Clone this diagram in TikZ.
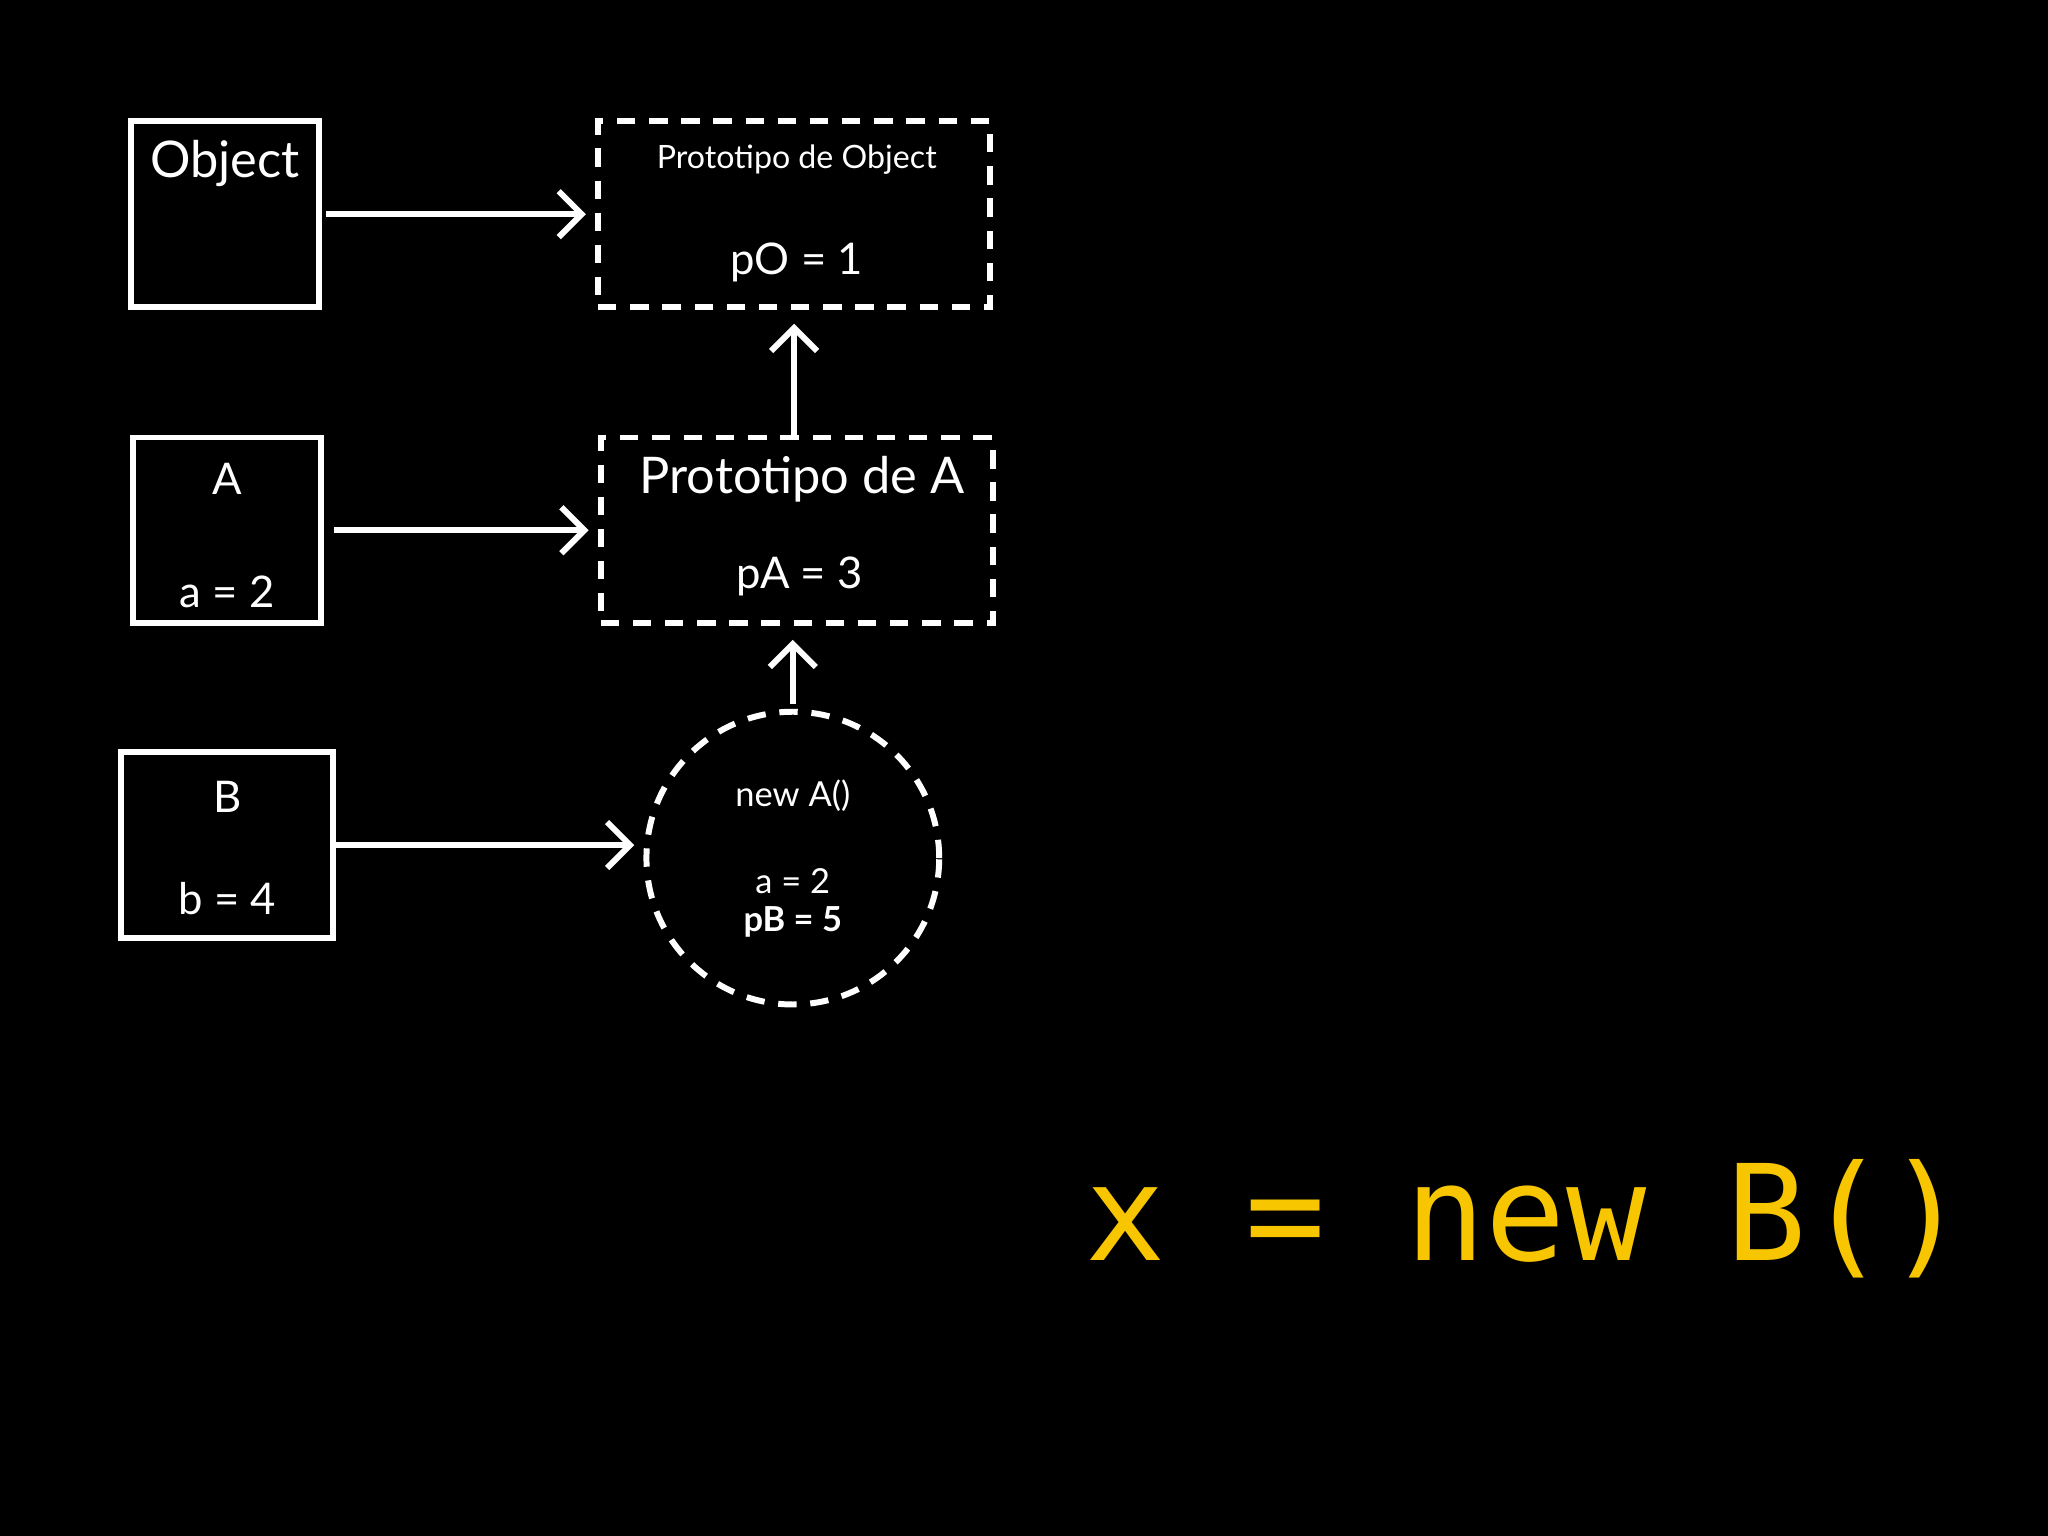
\documentclass[tikz,border=0pt]{standalone}
\usepackage{fontspec}
\setmainfont{Lato}
\setmonofont{DejaVu Sans Mono}
\usetikzlibrary{arrows.meta, positioning}
\definecolor{slideyellow}{HTML}{F7C600}

\tikzset{
  solidbox/.style={draw=white, line width=1.3pt, minimum width=1.44cm, minimum height=1.42cm, inner sep=0pt},
  protobox/.style={draw=white, line width=1.3pt, dashed, dash pattern=on 4pt off 3pt, minimum width=3cm, minimum height=1.42cm, inner sep=0pt},
  link/.style={draw=white, line width=1.3pt, -{Straight Barb[length=5pt, width=10pt]}},
  txt/.style={text=white, font=\fontsize{9.5}{11}\selectfont, inner sep=0pt}
}

\begin{document}
\begin{tikzpicture}[x=0.01cm, y=-0.01cm]
        \fill[black] (0,0) rectangle (1568,1176);

        \node[solidbox]                      (obj)   at (172,164) {};
        \node[protobox]                      (pobj)  at (608,164) {};
        \node[solidbox]                      (a)     at (174,406) {};
        \node[protobox]                      (pa)    at (610,406) {};
        \node[solidbox, minimum width=1.62cm] (b)    at (174,647) {};
        \node[circle, draw=white, line width=1.3pt, dash pattern=on 4pt off 3pt, minimum size=2.24cm] (inst) at (607,657) {};

        \node[txt, font=\fontsize{11}{13}\selectfont] at (172,125) {Object};
        \node[txt, font=\fontsize{7}{9}\selectfont]  at (610,122) {Prototipo de Object};
        \node[txt] at (610,201) {pO = 1};
        \node[txt] at (174,367) {A};
        \node[txt] at (174,453) {a = 2};
        \node[txt, font=\fontsize{11}{13}\selectfont] at (614,367) {Prototipo de A};
        \node[txt] at (612,441) {pA = 3};
        \node[txt] at (174,610) {B};
        \node[txt] at (174,688) {b = 4};
        \node[txt, font=\fontsize{7.5}{9}\selectfont] at (607,609) {new A()};
        \node[txt, font=\fontsize{7.5}{9}\selectfont] at (607,675) {a = 2};
        \node[txt, font=\bfseries\fontsize{7.5}{9}\selectfont] at (607,706) {pB = 5};

        \node[text=slideyellow, font=\ttfamily\fontsize{29}{32}\selectfont, inner sep=0pt, anchor=base west] (expr) at (830,965) {x = new B()};

        \draw[link] ([xshift=1pt]obj.east) -- ([xshift=-2pt]pobj.west);
        \draw[link] ([xshift=2pt]a.east) -- ([xshift=-2pt]pa.west);
        \draw[link] (b.east) -- ([xshift=-2pt]b.east -| inst.west);
        \draw[link] (pa.north -| pobj.south) -- ([yshift=-3pt]pobj.south);
        \draw[link] ([yshift=1pt]inst.north) -- ([yshift=-3pt]inst.north |- pa.south);
\end{tikzpicture}
\end{document}
